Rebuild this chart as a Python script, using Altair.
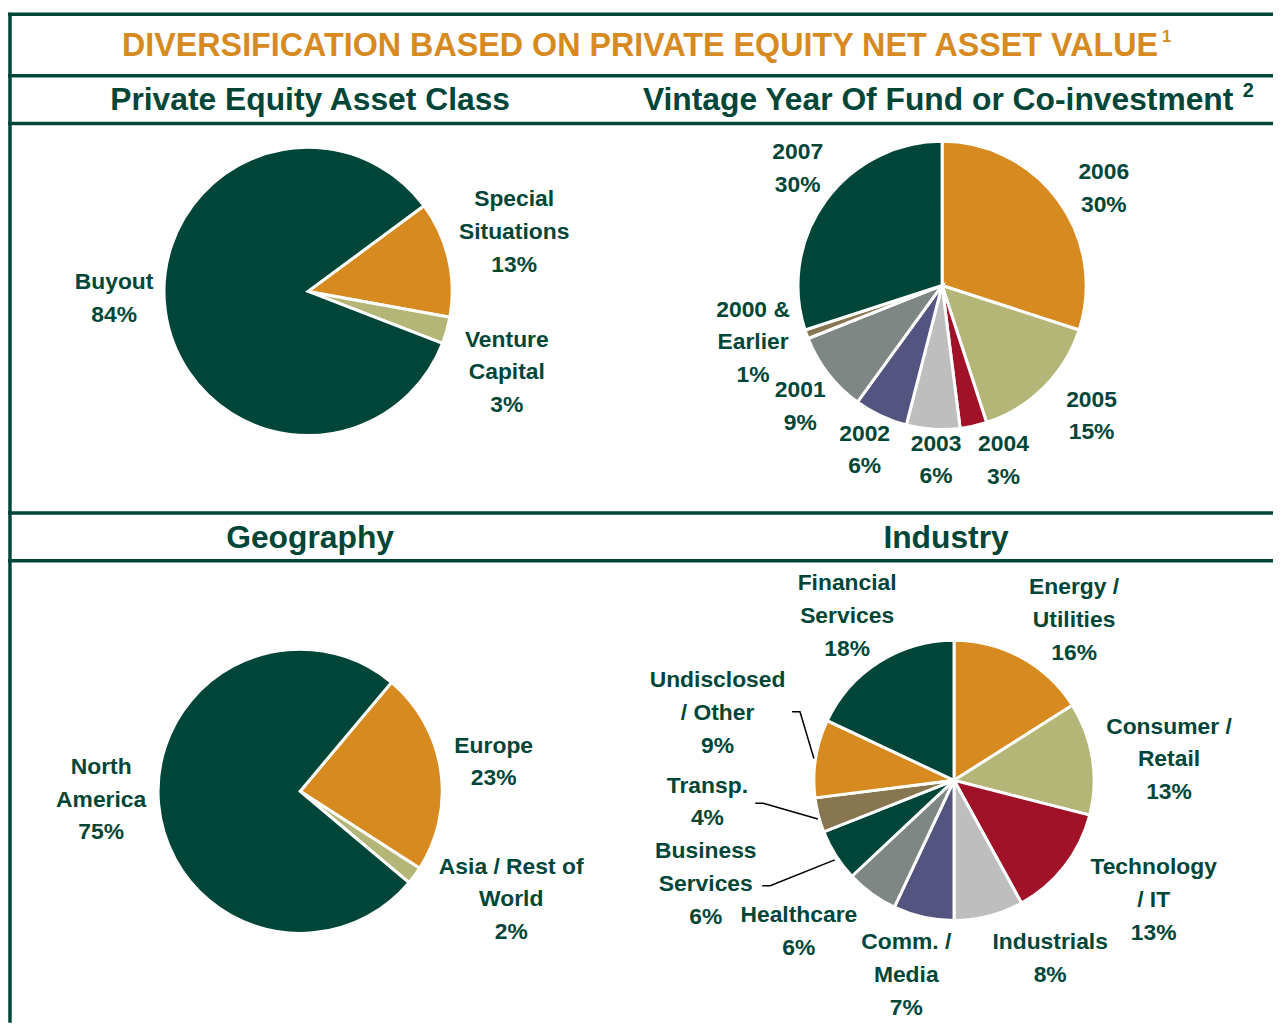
import math
import altair as alt
import pandas as pd

# ---------------- data ----------------
asset_cats = ["Special\nSituations", "Venture\nCapital", "Buyout"]
asset_vals = [13, 3, 84]

vintage_cats = ["2006", "2005", "2004", "2003", "2002", "2001", "2000 &\nEarlier", "2007"]
vintage_vals = [30, 15, 3, 6, 6, 9, 1, 30]

geo_cats = ["Europe", "Asia / Rest of\nWorld", "North\nAmerica"]
geo_vals = [23, 2, 75]

industry_cats = ["Energy /\nUtilities", "Consumer /\nRetail", "Technology\n/ IT", "Industrials",
                 "Comm. /\nMedia", "Healthcare", "Business\nServices", "Transp.",
                 "Undisclosed\n/ Other", "Financial\nServices"]
industry_vals = [16, 13, 13, 8, 7, 6, 6, 4, 9, 18]

TITLE = "DIVERSIFICATION BASED ON PRIVATE EQUITY NET ASSET VALUE"
HEADERS = ["Private Equity Asset Class", "Vintage Year Of Fund or Co-investment", "Geography", "Industry"]

# ---------------- styles / layout ----------------
GREEN = "#004638"
ORANGE = "#D68A1F"
OLIVE = "#B4B678"
RED = "#A11228"
GRAY = "#7F8785"
PURPLE = "#545481"
LGRAY = "#BEBEBE"
BROWN = "#877650"

asset_colors = [ORANGE, OLIVE, GREEN]
vintage_colors = [ORANGE, OLIVE, RED, LGRAY, PURPLE, GRAY, BROWN, GREEN]
geo_colors = [ORANGE, OLIVE, GREEN]
industry_colors = [ORANGE, OLIVE, RED, LGRAY, PURPLE, GRAY, GREEN, BROWN, ORANGE, GREEN]

# label placement: (radius, dx, dy) per slice
asset_lbl = [(216, -3, -11), (216, -8, 23), (195, -2, -19)]
vintage_lbl = [(190, 9, 14), (200, 9, -10), (187, 21, -6), (176, 5, 0), (183, 0, 0),
               (187, 5, 7), (199, -3, -10), (187, 6, -8)]
geo_lbl = [(197, 0, 0), (239, 20, -33), (201, 0, -9)]
industry_lbl = [(201, 24, 15), (217, 2, 13), (234, 16, -23), (204, 46, -18), (202, -4, -1),
                (218, -28, -24), (271, -21, -41), (249, -7, -40), (247, 6, -29), (197, -2, 1)]

LABEL_FONT = "Liberation Sans"
LINE_H = 33


def make_df(cats, vals, colors, lbl):
    labels = [c + "\n" + f"{v}%" for c, v in zip(cats, vals)]
    return pd.DataFrame({
        "cat": cats,
        "val": vals,
        "idx": list(range(len(cats))),
        "col": colors,
        "label": labels,
        "nl": [s.count("\n") for s in labels],
        "lr": [p[0] for p in lbl],
        "ndx": [p[1] for p in lbl],
        "ndy": [p[2] for p in lbl],
    })


def pie(df, cx, cy, r, start_deg):
    a = math.radians(start_deg)
    tscale = alt.Scale(domain=[0, 100], range=[a, a + 2 * math.pi])
    arcs = alt.Chart(df).mark_arc(outerRadius=r, stroke="white", strokeWidth=3).encode(
        theta=alt.Theta("val:Q", stack=True, scale=tscale),
        order=alt.Order("idx:Q"),
        color=alt.Color("col:N", scale=None),
        x=alt.value(cx),
        y=alt.value(cy),
    )
    labels = alt.Chart(df).transform_window(
        cum="sum(val)", sort=[alt.SortField("idx")], frame=[None, 0]
    ).transform_calculate(
        mid="datum.cum - datum.val / 2"
    ).mark_text(
        font=LABEL_FONT, fontSize=23, fontWeight="bold", color=GREEN,
        lineBreak="\n", lineHeight=LINE_H, align="center", baseline="middle",
        dx=alt.ExprRef(expr="datum.ndx"),
        dy=alt.ExprRef(expr=f"datum.ndy - datum.nl * {LINE_H / 2}"),
    ).encode(
        theta=alt.Theta("mid:Q", stack=False, scale=tscale),
        radius=alt.Radius("lr:Q", scale=None),
        text="label:N",
        x=alt.value(cx),
        y=alt.value(cy),
    )
    return alt.layer(arcs, labels)


p1 = pie(make_df(asset_cats, asset_vals, asset_colors, asset_lbl), 302, 282, 145, 53.5)
p2 = pie(make_df(vintage_cats, vintage_vals, vintage_colors, vintage_lbl), 940, 276, 145, 0)
p3 = pie(make_df(geo_cats, geo_vals, geo_colors, geo_lbl), 294, 785, 143, 40)
p4 = pie(make_df(industry_cats, industry_vals, industry_colors, industry_lbl), 952, 774, 141, 0)

# frame lines
hlines = alt.Chart(pd.DataFrame({"y": [3, 65, 113, 505, 553]})).mark_rule(
    color=GREEN, strokeWidth=3.5
).encode(y=alt.Y("y:Q", scale=None), x=alt.value(0), x2=alt.value(1273))
vline = alt.Chart(pd.DataFrame({"x": [2]})).mark_rule(
    color=GREEN, strokeWidth=3.5
).encode(x=alt.X("x:Q", scale=None), y=alt.value(1.5), y2=alt.value(1018))

# leader lines for small industry slices
leaders = pd.DataFrame({
    "seg": ["u", "u", "u", "t", "t", "t", "b", "b", "b"],
    "o": [0, 1, 2, 0, 1, 2, 0, 1, 2],
    "lx": [789, 797, 811, 752, 760, 815, 759, 767, 832],
    "ly": [705, 705, 752, 797, 797, 813, 880, 880, 854],
})
leader_lines = alt.Chart(leaders).mark_line(color="black", strokeWidth=1.5).encode(
    x=alt.X("lx:Q", scale=None), y=alt.Y("ly:Q", scale=None), detail="seg:N", order="o:Q"
)


def txt(s, x, y, size, color, font="Liberation Sans", baseline="alphabetic"):
    return alt.Chart(pd.DataFrame({"t": [s]})).mark_text(
        font=font, fontSize=size, fontWeight="bold", color=color,
        align="center", baseline=baseline,
    ).encode(text="t:N", x=alt.value(x), y=alt.value(y))


title = txt(TITLE, 636, 45, 32.5, ORANGE)
sup1 = txt("1", 1166, 31, 17, ORANGE)
h1 = txt(HEADERS[0], 304, 99, 32, GREEN)
h2 = txt(HEADERS[1], 936, 99, 32, GREEN)
sup2 = txt("2", 1248, 86, 20, GREEN)
h3 = txt(HEADERS[2], 304, 540, 32, GREEN)
h4 = txt(HEADERS[3], 944, 540, 32, GREEN)

chart = alt.layer(
    hlines, vline, p1, p2, p3, p4, leader_lines, title, sup1, h1, h2, sup2, h3, h4
).resolve_scale(theta="independent").properties(
    width=1273, height=1018, padding=0, autosize="none"
).configure_view(stroke=None)

chart.save("out.html", embed_options={"renderer": "svg", "actions": False})
